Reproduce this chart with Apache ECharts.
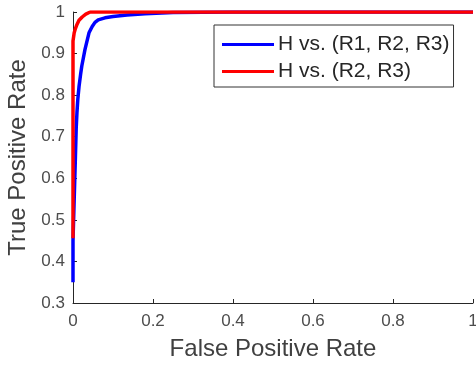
<!DOCTYPE html>
<html>
<head>
<meta charset="utf-8">
<script src="https://cdn.jsdelivr.net/npm/echarts@6/dist/echarts.min.js"></script>
<style>
  html, body { margin: 0; padding: 0; background: #fff; }
  #chart { width: 476px; height: 367px; }
</style>
</head>
<body>
<div id="chart"></div>
<script>
// ROC curves
const blueFpr = [0, 0, 0.003, 0.006, 0.008, 0.010, 0.012, 0.015, 0.019, 0.022, 0.026, 0.030, 0.035, 0.040, 0.048, 0.055, 0.063, 0.080, 0.100, 0.135, 0.180, 0.250, 0.400, 1];
const blueTpr = [0.35, 0.45, 0.55, 0.65, 0.72, 0.76, 0.79, 0.82, 0.85, 0.87, 0.89, 0.91, 0.93, 0.95, 0.965, 0.975, 0.981, 0.986, 0.989, 0.993, 0.996, 0.999, 1, 1];
const redFpr = [0, 0, 0.003, 0.006, 0.010, 0.015, 0.023, 0.032, 0.043, 0.100, 1];
const redTpr = [0.456, 0.93, 0.95, 0.96, 0.97, 0.98, 0.988, 0.995, 1, 1, 1];

const seriesNames = ["H vs. (R1, R2, R3)", "H vs. (R2, R3)"];

const pairs = (xs, ys) => xs.map((x, i) => [x, ys[i]]);

const font = '"Liberation Sans", Arial, Helvetica, sans-serif';
const axisGray = "#262626";
const labelGray = "#4d4d4d";

const chart = echarts.init(document.getElementById("chart"), null, { renderer: "canvas" });

chart.setOption({
  animation: false,
  backgroundColor: "#fff",
  textStyle: { fontFamily: font },
  // plot box is fixed; the "1" tick label is allowed to run off the right edge
  grid: { left: 73, right: 3, top: 12, bottom: 64, outerBoundsMode: "none", containLabel: false },
  legend: {
    orient: "vertical",
    left: 214,
    top: 25,
    padding: [9, 4, 5, 8],
    itemGap: 6,
    itemWidth: 52,
    itemHeight: 3,
    icon: "rect",
    borderColor: "#333",
    borderWidth: 1,
    backgroundColor: "#fff",
    textStyle: { fontSize: 21, color: "#262626", fontFamily: font, padding: [0, 0, 0, -1] },
    data: seriesNames,
  },
  xAxis: {
    type: "value",
    min: 0,
    max: 1,
    interval: 0.2,
    name: "False Positive Rate",
    nameLocation: "middle",
    nameGap: 34,
    nameTextStyle: { fontSize: 24, color: "#404040", fontFamily: font },
    axisLine: { lineStyle: { color: axisGray, width: 1 } },
    axisTick: { inside: true, length: 4, lineStyle: { color: axisGray } },
    axisLabel: { fontSize: 17, color: labelGray, margin: 10, fontFamily: font },
    splitLine: { show: false },
  },
  yAxis: {
    type: "value",
    min: 0.3,
    max: 1,
    interval: 0.1,
    name: "True Positive Rate",
    nameLocation: "middle",
    nameGap: 34,
    nameTextStyle: { fontSize: 24, color: "#404040", fontFamily: font },
    axisLine: { show: true, lineStyle: { color: axisGray, width: 1 } },
    axisTick: { show: true, inside: true, length: 4, lineStyle: { color: axisGray } },
    axisLabel: {
      fontSize: 17,
      color: labelGray,
      margin: 8,
      fontFamily: font,
      formatter: (v) => String(Math.round(v * 10) / 10),
    },
    splitLine: { show: false },
  },
  series: [
    {
      name: seriesNames[0],
      type: "line",
      data: pairs(blueFpr, blueTpr),
      showSymbol: false,
      color: "#0000ff",
      lineStyle: { color: "#0000ff", width: 3.5 },
      z: 2,
    },
    {
      name: seriesNames[1],
      type: "line",
      data: pairs(redFpr, redTpr),
      showSymbol: false,
      color: "#ff0000",
      lineStyle: { color: "#ff0000", width: 3.5 },
      z: 3,
    },
  ],
});
</script>
</body>
</html>
